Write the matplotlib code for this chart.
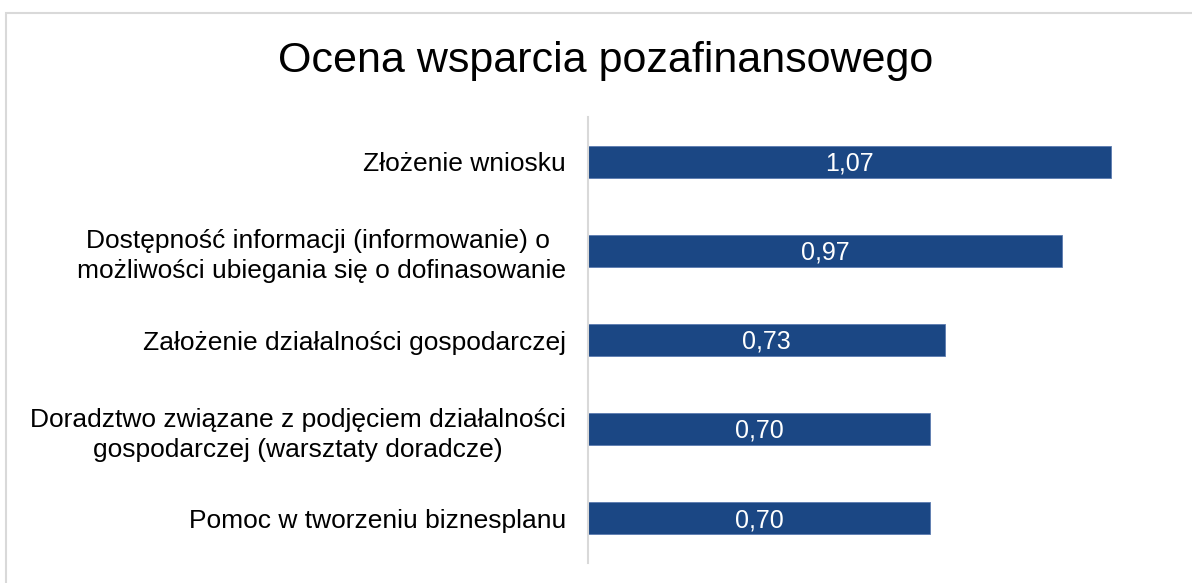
import numpy as np
import matplotlib.pyplot as plt
from matplotlib.patches import Rectangle

plt.rcParams['font.family'] = ['Liberation Sans', 'DejaVu Sans']

categories = [
    "Złożenie wniosku",
    "Dostępność informacji (informowanie) o \nmożliwości ubiegania się o dofinasowanie",
    "Założenie działalności gospodarczej",
    "Doradztwo związane z podjęciem działalności\ngospodarczej (warsztaty doradcze)",
    "Pomoc w tworzeniu biznesplanu",
]
values = [1.07, 0.97, 0.73, 0.70, 0.70]
value_labels = ["1,07", "0,97", "0,73", "0,70", "0,70"]

fig = plt.figure(figsize=(11.92, 5.83), dpi=100)
ax = fig.add_axes([0.4933, 0.0343, 0.4921, 0.765])

y = np.arange(len(categories))
bars = ax.barh(y, values, height=0.36, color='#1b4784', edgecolor='#5b7bb0', linewidth=0.6)

for b, lab in zip(bars, value_labels):
    ax.text(b.get_width() / 2, b.get_y() + b.get_height() / 2 + 0.02, lab,
            ha='center', va='center', color='white', fontsize=18)

ax.set_yticks(y)
ax.set_yticklabels(categories, fontsize=19, ha='right', multialignment='center', linespacing=1.32)
ax.tick_params(axis='y', length=0, pad=16)
ax.set_xticks([])
ax.set_xlim(0, 1.2)
ax.set_ylim(len(categories) - 0.5, -0.5)

for s in ['top', 'right', 'bottom']:
    ax.spines[s].set_visible(False)
ax.spines['left'].set_color('#d9d9d9')
ax.spines['left'].set_linewidth(1.5)

fig.text(0.508, 0.896, "Ocena wsparcia pozafinansowego", ha='center', va='center', fontsize=31)

# light frame (only left and top visible in the crop)
fig.add_artist(Rectangle((6 / 1192, -0.1), 1.2, 1.1 - 13 / 583, transform=fig.transFigure,
                         fill=False, edgecolor='#d9d9d9', linewidth=1.5))

fig.savefig("out.png", dpi=100)
